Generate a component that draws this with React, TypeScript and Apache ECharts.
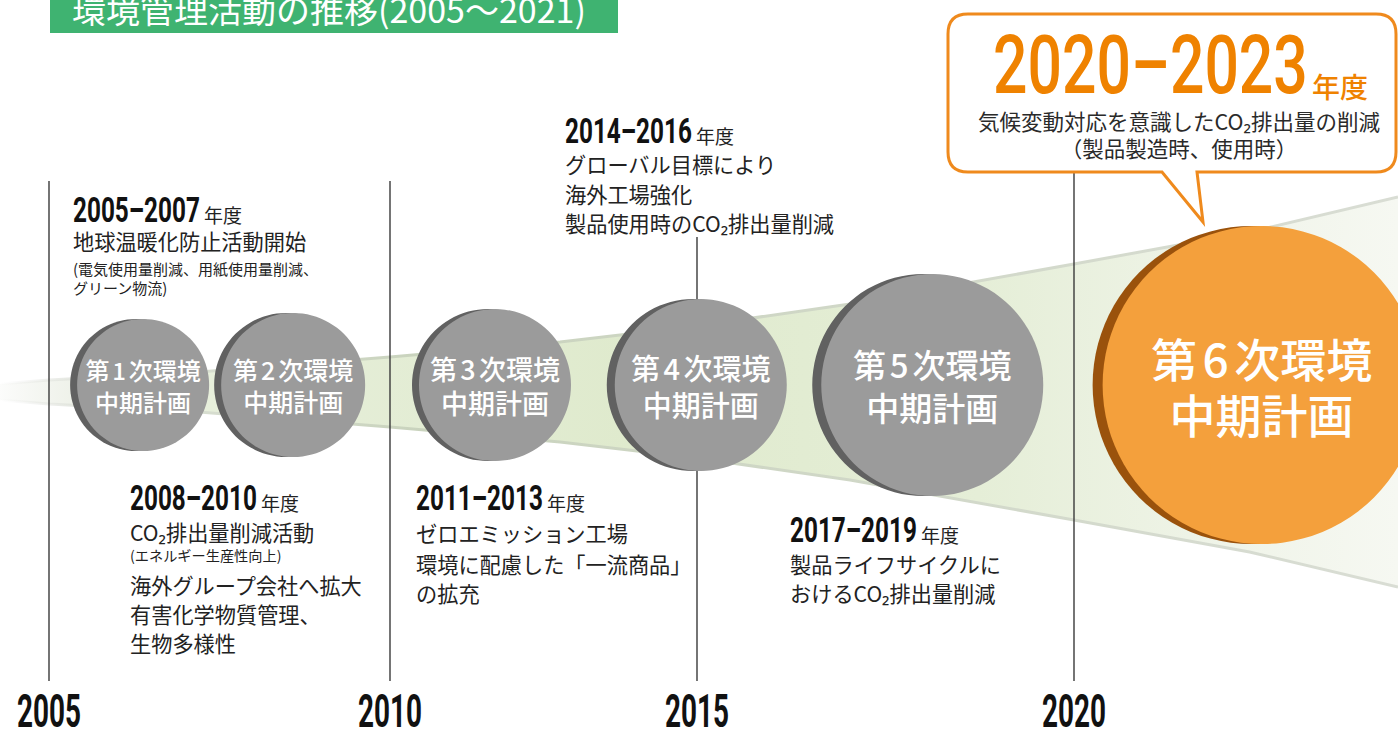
import React, { useEffect, useRef } from 'react';
import * as echarts from 'echarts';

const WIDTH = 1398;
const HEIGHT = 732;

// ---------------- data ----------------
const yearTicks = [2005, 2010, 2015, 2020];
const planNumbers = ['1', '2', '3', '4', '5', '6'];
const planCenterYears = [2006.38, 2008.58, 2011.71, 2015.05, 2018.12, 2022.49];
const planDiameters = [132, 144, 152, 172, 222, 318];
const coneYears = [2004.28, 2005, 2007.2, 2010, 2012.77, 2015, 2017.03, 2020, 2022.33, 2024.3];
const coneHalfWidths = [8, 12, 20, 35, 50, 66, 88, 128, 160, 195];

const notePeriods = ['2005–2007', '2008–2010', '2011–2013', '2014–2016', '2017–2019'];
const noteLines = [
  [['地球温暖化防止活動開始', 'main'], ['(電気使用量削減、用紙使用量削減、', 'sub'], ['グリーン物流)', 'sub']],
  [['CO₂排出量削減活動', 'main'], ['(エネルギー生産性向上)', 'sub2'], ['海外グループ会社へ拡大', 'main'], ['有害化学物質管理、', 'main'], ['生物多様性', 'main']],
  [['ゼロエミッション工場', 'main'], ['環境に配慮した「一流商品」', 'main'], ['の拡充', 'main']],
  [['グローバル目標により', 'main'], ['海外工場強化', 'main'], ['製品使用時のCO₂排出量削減', 'main']],
  [['製品ライフサイクルに', 'main'], ['おけるCO₂排出量削減', 'main']],
];
const bubblePeriod = '2020–2023';
const bubbleLines = ['気候変動対応を意識したCO₂排出量の削減', '（製品製造時、使用時）'];
const titleText = '環境管理活動の推移(2005～2021)';
const unitText = '年度';

// ---------------- layout ----------------
const GRIDS = [
  { left: 49, width: 341, min: 2005, max: 2010 },
  { left: 390, width: 307, min: 2010, max: 2015 },
  { left: 697, width: 377, min: 2015, max: 2020 },
  { left: 1074, width: 324, min: 2020, max: 2024.3 },
];
const PLOT_H = 692;
const CIRCLE_Y = 385;
const CONE_Y = 392;
const yearLineTops = [181, 181, 237, 152];
const YEAR_LINE_BOTTOM = 681;
const crescent = [7, 7, 7, 8, 9, 10];
const labelSizes = [24, 25, 27, 29, 33, 46];
const labelLineHeights = [32, 32, 34, 37, 43, 56];
const noteLayout = [
  { x: 73, headY: 210, lineYs: [240, 268, 287] },
  { x: 130, headY: 498, lineYs: [531, 555, 584, 613, 642] },
  { x: 416, headY: 498, lineYs: [532, 563, 592] },
  { x: 565, headY: 131, lineYs: [163, 193, 222] },
  { x: 790, headY: 530, lineYs: [563, 592] },
];
const lineSizes: Record<string, number> = { main: 21.2, sub: 15, sub2: 14.2 };

const FONT_JP = '"Noto Sans CJK JP", "Noto Sans", sans-serif';
const FONT_NUM = 'Roboto, "Liberation Sans", sans-serif';

const bubblePath =
  'M 968 14 H 1376 Q 1396 14 1396 34 V 152 Q 1396 172 1376 172 H 1197 L 1203 222 L 1162 172 H 968 Q 948 172 948 152 V 34 Q 948 14 968 14 Z';
echarts.graphic.registerShape('bubble', echarts.graphic.extendPath(bubblePath, {}));

function gridOf(year: number) {
  if (year <= 2010) return 0;
  if (year <= 2015) return 1;
  if (year <= 2020) return 2;
  return 3;
}
function inGrid(year: number, g: number) {
  const G = GRIDS[g];
  if (g === 0) return year <= G.max;
  if (g === 3) return year >= G.min;
  return year >= G.min && year <= G.max;
}

let measureCtx: CanvasRenderingContext2D | null = null;
function measure(text: string, font: string) {
  if (!measureCtx) measureCtx = document.createElement('canvas').getContext('2d');
  measureCtx!.font = font;
  return measureCtx!.measureText(text).width;
}

function txt(x: number, y: number, text: string, o: any = {}) {
  const align = o.align || 'left';
  return {
    type: 'text',
    x,
    y,
    z: 20,
    silent: true,
    scaleX: o.scaleX || 1,
    style: {
      text,
      fill: o.color || '#222',
      fontSize: o.size,
      fontFamily: o.family || FONT_JP,
      fontWeight: o.weight || 400,
      textAlign: align,
      align,
      textVerticalAlign: 'middle',
      verticalAlign: 'middle',
    },
  };
}

function condensed(x: number, y: number, text: string, size: number, targetW: number, o: any = {}) {
  const weight = o.weight || 700;
  const w = measure(text, `${weight} ${size}px Roboto`);
  const s = targetW / w;
  return txt(x, y, text, { ...o, size, weight, family: FONT_NUM, scaleX: s });
}

const App: React.FC = () => {
  const ref = useRef<HTMLDivElement>(null);

  useEffect(() => {
    document.body.style.margin = '0';
    if (!ref.current) return;
    const chart = echarts.init(ref.current, undefined, { renderer: 'svg' });

    const edgeGrad = new echarts.graphic.LinearGradient(0, 0, WIDTH, 0, [
      { offset: 0, color: 'rgba(230,230,230,0)' },
      { offset: 0.06, color: '#dfe3da' },
      { offset: 0.3, color: '#c9d3bd' },
      { offset: 1, color: '#d9ddd4' },
    ], true);
    const fillGrad = new echarts.graphic.LinearGradient(0, 0, WIDTH, 0, [
      { offset: 0, color: 'rgba(238,240,234,0.2)' },
      { offset: 0.05, color: '#eff2ea' },
      { offset: 0.15, color: '#e7efdb' },
      { offset: 0.45, color: '#dfeacd' },
      { offset: 0.7, color: '#e5eed7' },
      { offset: 0.85, color: '#eef3e6' },
      { offset: 1, color: '#f6f8f2' },
    ], true);

    const series: any[] = [];

    // cone segments, one per grid
    GRIDS.forEach((G, g) => {
      series.push({
        type: 'custom',
        xAxisIndex: g,
        yAxisIndex: g,
        z: 1,
        silent: true,
        clip: false,
        data: [[(G.min + G.max) / 2, CONE_Y]],
        renderItem: (params: any, api: any) => {
          const idx = coneYears.map((_, i) => i).filter((i) => inGrid(coneYears[i], g));
          const top = idx.map((i) => api.coord([coneYears[i], CONE_Y - coneHalfWidths[i]]));
          const bot = idx.map((i) => api.coord([coneYears[i], CONE_Y + coneHalfWidths[i]]));
          return {
            type: 'group',
            children: [
              { type: 'polygon', shape: { points: [...top, ...bot.slice().reverse()] }, style: { fill: fillGrad, stroke: null } },
              { type: 'polyline', shape: { points: top }, style: { stroke: edgeGrad, lineWidth: 3, fill: null } },
              { type: 'polyline', shape: { points: bot }, style: { stroke: edgeGrad, lineWidth: 3, fill: null } },
            ],
          };
        },
      });
    });

    // vertical year lines
    yearTicks.forEach((yr, i) => {
      const g = yr === 2005 || yr === 2010 ? 0 : 2;
      series.push({
        type: 'line',
        xAxisIndex: g,
        yAxisIndex: g,
        z: 2,
        silent: true,
        clip: false,
        symbol: 'none',
        lineStyle: { color: '#3a3a3a', width: 1.4 },
        data: [[yr, yearLineTops[i]], [yr, YEAR_LINE_BOTTOM]],
      });
    });

    // plan circles
    planCenterYears.forEach((yr, i) => {
      const g = gridOf(yr);
      const orange = i === 5;
      const d = planDiameters[i];
      const fs = labelSizes[i];
      const lh = labelLineHeights[i];
      series.push({
        type: 'scatter',
        xAxisIndex: g,
        yAxisIndex: g,
        z: 3,
        silent: true,
        clip: false,
        symbol: 'circle',
        symbolSize: d,
        symbolOffset: [-crescent[i], 0],
        itemStyle: { color: orange ? '#9a520c' : '#616161', opacity: 1 },
        data: [[yr, CIRCLE_Y]],
      });
      series.push({
        type: 'scatter',
        xAxisIndex: g,
        yAxisIndex: g,
        z: 4,
        silent: true,
        clip: false,
        symbol: 'circle',
        symbolSize: d,
        itemStyle: { color: orange ? '#f4a03c' : '#9b9b9b', opacity: 1 },
        label: {
          show: true,
          position: 'inside',
          formatter: `{t|第}{n|${planNumbers[i]}}{t|次環境}\n{t|中期計画}`,
          rich: {
            t: { fontSize: fs, lineHeight: lh, color: '#fff', fontFamily: FONT_JP, fontWeight: 500 },
            n: { fontSize: fs, lineHeight: lh, color: '#fff', fontFamily: FONT_JP, fontWeight: 500, padding: [0, fs * 0.12] },
          },
        },
        data: [[yr, CIRCLE_Y]],
      });
    });

    const option: any = {
      animation: false,
      backgroundColor: '#ffffff',
      grid: GRIDS.map((G) => ({ left: G.left, width: G.width, top: 0, height: PLOT_H })),
      xAxis: GRIDS.map((G, g) => ({ type: 'value', gridIndex: g, min: G.min, max: G.max, show: false })),
      yAxis: GRIDS.map((G, g) => ({ type: 'value', gridIndex: g, min: 0, max: PLOT_H, inverse: true, show: false })),
      series,
    };
    chart.setOption(option);

    const graphics: any[] = [];
    // title bar
    graphics.push({ type: 'rect', z: 15, silent: true, shape: { x: 50, y: 0, width: 568, height: 33 }, style: { fill: '#3fb371' } });
    graphics.push(txt(72, 8, titleText, { size: 34, color: '#ffffff', weight: 400 }));

    // speech bubble
    graphics.push({ type: 'bubble', x: 0, y: 0, z: 18, silent: true, style: { fill: '#ffffff', stroke: '#ef8a1d', lineWidth: 3 } });
    graphics.push(condensed(993, 65, bubblePeriod, 82, 315, { weight: 500, color: '#ef8200' }));
    graphics.push(txt(993 + 315 + 4, 86, unitText, { size: 28, color: '#ef8200', weight: 500 }));
    graphics.push(txt(1179, 120, bubbleLines[0], { size: 21.5, align: 'center', color: '#2a2a2a' }));
    graphics.push(txt(1179, 147, bubbleLines[1], { size: 21.5, align: 'center', color: '#2a2a2a' }));

    // note blocks
    notePeriods.forEach((p, i) => {
      const L = noteLayout[i];
      graphics.push(condensed(L.x, L.headY, p, 35, 127, { color: '#111' }));
      graphics.push(txt(L.x + 127 + 4, L.headY + 4, unitText, { size: 19, color: '#222' }));
      noteLines[i].forEach(([t, kind], j) => {
        graphics.push(txt(L.x, L.lineYs[j], t, { size: lineSizes[kind], color: '#222' }));
      });
    });

    // year labels derived from the axes
    yearTicks.forEach((yr) => {
      const g = yr === 2005 || yr === 2010 ? 0 : 2;
      const px = chart.convertToPixel({ xAxisIndex: g } as any, yr) as number;
      const w = measure(String(yr), `700 46px Roboto`);
      graphics.push(txt(px, 711, String(yr), { size: 46, weight: 700, family: FONT_NUM, color: '#111', align: 'center', scaleX: 64 / w }));
    });

    chart.setOption({ graphic: { elements: graphics } });

    return () => {
      chart.dispose();
    };
  }, []);

  return <div ref={ref} style={{ width: WIDTH, height: HEIGHT }} />;
};

export default App;
